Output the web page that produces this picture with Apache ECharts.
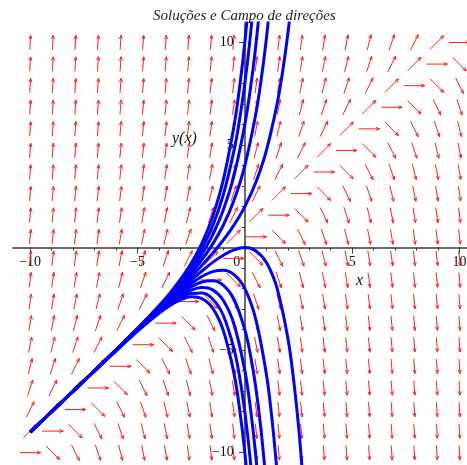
<!DOCTYPE html>
<html>
<head>
<meta charset="utf-8">
<script src="https://cdn.jsdelivr.net/npm/echarts@6/dist/echarts.min.js"></script>
<style>html,body{margin:0;padding:0;background:#fff}#c{width:467px;height:465px}</style>
</head>
<body>
<div id="c"></div>
<script>
// ---- data ----
const titleText = 'Soluções e Campo de direções';
const xTickLabels = [-10, -5, 0, 5, 10];
const yTickLabels = [-10, -5, 5, 10];
const majorTicks = [-10, -5, 5, 10];
const minorTicks = [-10,-9,-8,-7,-6,-5,-4,-3,-2,-1,0,1,2,3,4,5,6,7,8,9,10];

// arrow grid (20 x 20) positions
const fieldX = [-10,-8.947,-7.895,-6.842,-5.789,-4.737,-3.684,-2.632,-1.579,-0.526,0.526,1.579,2.632,3.684,4.737,5.789,6.842,7.895,8.947,10];
const fieldY = [-10,-8.947,-7.895,-6.842,-5.789,-4.737,-3.684,-2.632,-1.579,-0.526,0.526,1.579,2.632,3.684,4.737,5.789,6.842,7.895,8.947,10];
// arrow slope dy/dx along each diagonal (row index minus column index, -19 .. 19)
const slopeByOffset = [-20,-18.95,-17.89,-16.84,-15.79,-14.74,-13.68,-12.63,-11.58,-10.53,-9.47,-8.42,-7.37,-6.32,-5.26,-4.21,-3.16,-2.11,-1.05,
  0,
  1.05,2.11,3.16,4.21,5.26,6.32,7.37,8.42,9.47,10.53,11.58,12.63,13.68,14.74,15.79,16.84,17.89,18.95,20];

// solution curves, labelled by y(0)
const curveY10 = [[-10,-9],[-8,-7],[-6,-4.98],[-5,-3.94],[-4,-2.84],[-3.5,-2.23],[-3,-1.55],[-2.5,-0.76],[-2,0.22],[-1.5,1.51],[-1,3.31],[-0.5,5.96],[-0.25,7.76],[0,10],[0.25,12.81]];
const curveY8 = [[-10,-9],[-8,-7],[-6,-4.98],[-5,-3.95],[-4,-2.87],[-3.5,-2.29],[-3,-1.65],[-2.5,-0.93],[-2,-0.05],[-1.5,1.06],[-1,2.58],[-0.5,4.75],[-0.25,6.2],[0,8],[0.25,10.24],[0.5,13.04]];
const curveY6 = [[-10,-9],[-8,-7],[-6,-4.99],[-5,-3.97],[-4,-2.91],[-3.5,-2.35],[-3,-1.75],[-2.5,-1.09],[-2,-0.32],[-1.5,0.62],[-1,1.84],[-0.5,3.53],[0,6],[0.25,7.67],[0.5,9.74],[0.75,12.34]];
const curveY4 = [[-10,-9],[-8,-7],[-6,-4.99],[-5,-3.98],[-4,-2.95],[-3.5,-2.41],[-3,-1.85],[-2.5,-1.25],[-2,-0.59],[-1.5,0.17],[-1,1.1],[-0.5,2.32],[0,4],[0.5,6.45],[0.75,8.1],[1,10.15],[1.25,12.72]];
const curveY2 = [[-10,-9],[-8,-7],[-6,-5],[-5,-3.99],[-4,-2.98],[-3,-1.95],[-2.5,-1.42],[-2,-0.86],[-1.5,-0.28],[-1,0.37],[-0.5,1.11],[0,2],[0.5,3.15],[1,4.72],[1.5,6.98],[1.75,8.51],[2,10.39],[2.25,12.74]];
const curveY0 = [[-10,-9],[-8,-7],[-6,-5],[-5,-4.01],[-4,-3.02],[-3,-2.05],[-2.5,-1.58],[-2,-1.14],[-1.5,-0.72],[-1,-0.37],[-0.5,-0.11],[0,0],[0.5,-0.15],[1,-0.72],[1.5,-1.98],[2,-4.39],[2.25,-6.24],[2.5,-8.68],[2.75,-11.89]];
const curveYm2 = [[-10,-9],[-8,-7],[-6,-5.01],[-5,-4.02],[-4,-3.05],[-3.5,-2.59],[-3,-2.15],[-2.5,-1.75],[-2,-1.41],[-1.5,-1.17],[-1,-1.1],[-0.5,-1.32],[0,-2],[0.5,-3.45],[1,-6.15],[1.25,-8.22],[1.5,-10.95],[1.75,-14.52]];
const curveYm4 = [[-10,-9],[-8,-7],[-6,-5.01],[-5,-4.03],[-4,-3.09],[-3.5,-2.65],[-3,-2.25],[-2.5,-1.91],[-2,-1.68],[-1.5,-1.62],[-1,-1.84],[-0.5,-2.53],[0,-4],[0.25,-5.17],[0.5,-6.74],[0.75,-8.84],[1,-11.59]];
const curveYm6 = [[-10,-9],[-8,-7],[-6,-5.02],[-5,-4.05],[-4,-3.13],[-3.5,-2.71],[-3,-2.35],[-2.5,-2.07],[-2,-1.95],[-1.5,-2.06],[-1,-2.58],[-0.5,-3.75],[0,-6],[0.25,-7.74],[0.5,-10.04],[0.75,-13.07]];
const curveYm8 = [[-10,-9],[-8,-7],[-6,-5.02],[-5,-4.06],[-4,-3.16],[-3.5,-2.77],[-3,-2.45],[-2.5,-2.24],[-2,-2.22],[-1.5,-2.51],[-1,-3.31],[-0.5,-4.96],[-0.25,-6.26],[0,-8],[0.25,-10.31],[0.5,-13.34]];
const curveYm10 = [[-10,-9],[-8,-7],[-6,-5.03],[-5,-4.07],[-4,-3.2],[-3.5,-2.83],[-3,-2.55],[-2.5,-2.4],[-2,-2.49],[-1.5,-2.95],[-1,-4.05],[-0.5,-6.17],[-0.25,-7.82],[0,-10],[0.25,-12.87]];
const curves = [curveY10, curveY8, curveY6, curveY4, curveY2, curveY0, curveYm2, curveYm4, curveYm6, curveYm8, curveYm10];

// ---- build ----
const fieldData = [];
for (let i = 0; i < fieldX.length; i++) {
  for (let j = 0; j < fieldY.length; j++) {
    fieldData.push([fieldX[i], fieldY[j], slopeByOffset[j - i + 19]]);
  }
}

const serif = '"Liberation Serif","Times New Roman",serif';
function fmt(v) { return v < 0 ? '\u2212' + Math.abs(v) : String(v); }

const chart = echarts.init(document.getElementById('c'), null, {renderer: 'canvas'});

const X_MIN = -10.8, X_MAX = 10.35, Y_MIN = -10.6, Y_MAX = 10.95;
const G = {left: 13, width: 454, top: 23, height: 442};
// move the axes from the grid edges onto the origin lines
const xAxisOffset = -(0 - Y_MIN) / (Y_MAX - Y_MIN) * G.height;
const yAxisOffset = -(0 - X_MIN) / (X_MAX - X_MIN) * G.width;
const axisCol = '#3a3a3a';
const labelBase = {fontFamily: serif, fontSize: 14, color: '#111'};

const option = {
  backgroundColor: '#fff',
  animation: false,
  title: {
    text: titleText, left: 153, top: 9, padding: 0,
    textStyle: {fontFamily: serif, fontStyle: 'italic', fontWeight: 'normal', fontSize: 15, color: '#222'}
  },
  grid: {left: G.left, width: G.width, top: G.top, height: G.height, containLabel: false, outerBoundsMode: 'none'},
  xAxis: [
    {type: 'value', min: X_MIN, max: X_MAX, position: 'bottom', offset: xAxisOffset,
     axisLine: {show: true, onZero: false, lineStyle: {color: axisCol, width: 1.5}},
     axisTick: {show: true, length: 6, customValues: majorTicks, lineStyle: {color: axisCol, width: 1}},
     axisLabel: Object.assign({show: true, customValues: xTickLabels, margin: 8,
       formatter: v => v === 0 ? '{z|0}' : fmt(v), rich: {z: Object.assign({padding: [0, 16, 0, 0]}, labelBase)}}, labelBase),
     splitLine: {show: false}},
    {type: 'value', min: X_MIN, max: X_MAX, position: 'bottom', offset: xAxisOffset,
     axisLine: {show: false, onZero: false},
     axisTick: {show: true, length: 3, customValues: minorTicks, lineStyle: {color: axisCol, width: 1}},
     axisLabel: {show: false}, splitLine: {show: false}}
  ],
  yAxis: [
    {type: 'value', min: Y_MIN, max: Y_MAX, position: 'left', offset: yAxisOffset,
     axisLine: {show: true, onZero: false, lineStyle: {color: axisCol, width: 1.5}},
     axisTick: {show: true, length: 6, customValues: majorTicks, lineStyle: {color: axisCol, width: 1}},
     axisLabel: Object.assign({show: true, customValues: yTickLabels, margin: 11, formatter: fmt}, labelBase),
     splitLine: {show: false}},
    {type: 'value', min: Y_MIN, max: Y_MAX, position: 'left', offset: yAxisOffset,
     axisLine: {show: false, onZero: false},
     axisTick: {show: true, length: 3, customValues: minorTicks, lineStyle: {color: axisCol, width: 1}},
     axisLabel: {show: false}, splitLine: {show: false}}
  ],
  graphic: [
    {type: 'text', left: 172, top: 131, style: {text: 'y(x)', font: 'italic 16px ' + serif, fill: '#111'}},
    {type: 'text', left: 356, top: 273, style: {text: 'x', font: 'italic 16px ' + serif, fill: '#111'}}
  ],
  series: [
    {
      type: 'custom', name: 'campo', xAxisIndex: 0, yAxisIndex: 0, clip: false, z: 1,
      data: fieldData,
      renderItem: function (params, api) {
        const c = api.coord([api.value(0), api.value(1)]);
        const sz = api.size([1, 1]);
        const s = api.value(2);
        let dx = sz[0], dy = -s * sz[1];
        const n = Math.hypot(dx, dy);
        const ux = dx / n, uy = dy / n;
        const ang = Math.atan2(Math.abs(uy), Math.abs(ux)) / (Math.PI / 2);
        const L = 21 - 7 * ang * ang;
        const x1 = c[0] - ux * L / 2, y1 = c[1] - uy * L / 2;
        const x2 = c[0] + ux * L / 2, y2 = c[1] + uy * L / 2;
        const h = 4, a = 0.38;
        const ca = Math.cos(a), sa = Math.sin(a);
        const bx1 = x2 - h * (ux * ca - uy * sa), by1 = y2 - h * (uy * ca + ux * sa);
        const bx2 = x2 - h * (ux * ca + uy * sa), by2 = y2 - h * (uy * ca - ux * sa);
        return {
          type: 'group',
          children: [
            {type: 'line', shape: {x1: x1, y1: y1, x2: x2, y2: y2}, style: {stroke: '#ff2020', lineWidth: 1}},
            {type: 'polyline', shape: {points: [[bx1, by1], [x2, y2], [bx2, by2]]}, style: {stroke: '#ff2020', lineWidth: 1, fill: null}}
          ]
        };
      }
    }
  ].concat(curves.map((d, k) => ({
    type: 'line', name: 'sol' + k, xAxisIndex: 0, yAxisIndex: 0, data: d, smooth: 0.35,
    showSymbol: false, symbol: 'none', clip: true, z: 3,
    lineStyle: {color: '#0000ff', width: 3}
  })))
};
chart.setOption(option);
</script>
</body>
</html>
